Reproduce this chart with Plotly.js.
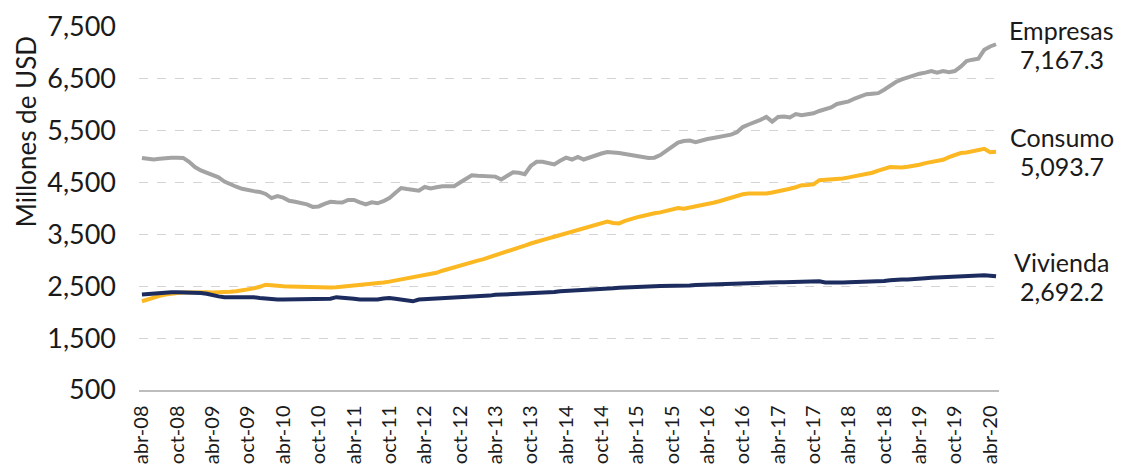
<!DOCTYPE html>
<html>
<head>
<meta charset="utf-8">
<script src="https://cdn.plot.ly/plotly-3.0.1.min.js"></script>
<style>html,body{margin:0;padding:0;background:#fff;}#chart{width:1125px;height:470px;}</style>
</head>
<body>
<div id="chart"></div>
<script>
// Month labels: abr-08 ... may-20 (monthly)
const meses = ['ene','feb','mar','abr','may','jun','jul','ago','sep','oct','nov','dic'];
const startMonth = 3, startYear = 2008, nMonths = 146;
const categorias = [];
for (let k = 0; k < nMonths; k++) {
  const m = (startMonth + k) % 12;
  const y = startYear + Math.floor((startMonth + k) / 12);
  categorias.push(meses[m] + '-' + String(y).slice(-2));
}
const ticksX = categorias.filter((c, i) => i % 6 === 0);

const empresas = [
  4975, 4960, 4945, 4960, 4975, 4980, 4980, 4975, 4900, 4800, 4735, 4690,
  4660, 4600, 4520, 4460, 4420, 4380, 4350, 4335, 4320, 4280, 4200, 4240,
  4210, 4150, 4130, 4110, 4080, 4030, 4040, 4090, 4130, 4120, 4115, 4165,
  4165, 4120, 4080, 4120, 4100, 4140, 4200, 4300, 4395, 4375, 4360, 4345,
  4415, 4385, 4410, 4430, 4430, 4430, 4500, 4560, 4640, 4630, 4620, 4620,
  4615, 4560, 4640, 4700, 4690, 4660, 4820, 4900, 4900, 4870, 4850, 4920,
  4980, 4945, 4995, 4945, 4990, 5030, 5060, 5090, 5085, 5070, 5050, 5030,
  5000, 4980, 4975, 4980, 5030, 5110, 5185, 5270, 5300, 5310, 5280, 5320,
  5340, 5360, 5380, 5400, 5425, 5470, 5570, 5620, 5660, 5710, 5765, 5675,
  5765, 5775, 5755, 5820, 5800, 5815, 5835, 5880, 5920, 5950, 6015, 6040,
  6065, 6120, 6160, 6205, 6215, 6225, 6290, 6370, 6440, 6490, 6530, 6570,
  6600, 6620, 6650, 6620, 6650, 6630, 6650, 6735, 6845, 6870, 6890, 7060,
  7125, 7167.3
];
const consumo = [
  2212, 2250, 2290, 2315, 2340, 2360, 2370, 2380, 2385, 2385, 2385, 2383,
  2382, 2380, 2385, 2395, 2405, 2420, 2440, 2460, 2490, 2530, 2520, 2505,
  2500, 2498, 2495, 2490, 2480, 2470, 2472, 2475, 2478, 2480, 2490, 2505,
  2515, 2530, 2545, 2555, 2565, 2575, 2590, 2610, 2630, 2650, 2670, 2690,
  2715, 2740, 2760, 2800, 2835, 2870, 2900, 2930, 2960, 2995, 3025, 3060,
  3095, 3130, 3170, 3200, 3240, 3285, 3325, 3365, 3395, 3425, 3455, 3490,
  3520, 3555, 3585, 3615, 3645, 3680, 3715, 3750, 3720, 3712, 3760, 3800,
  3828, 3855, 3885, 3908, 3925, 3950, 3975, 4010, 3995, 4015, 4045, 4070,
  4085, 4110, 4140, 4175, 4210, 4240, 4275, 4290, 4285, 4290, 4290, 4310,
  4330, 4350, 4380, 4410, 4450, 4455, 4465, 4545, 4550, 4555, 4560, 4580,
  4600, 4620, 4640, 4665, 4690, 4730, 4770, 4800, 4795, 4790, 4805, 4820,
  4845, 4875, 4895, 4915, 4940, 4990, 5040, 5070, 5080, 5105, 5120, 5150,
  5085, 5093.7
];
const vivienda = [
  2340, 2350, 2365, 2375, 2385, 2385, 2385, 2385, 2385, 2380, 2370, 2355,
  2320, 2305, 2290, 2290, 2295, 2300, 2300, 2290, 2275, 2260, 2245, 2245,
  2245, 2245, 2245, 2245, 2245, 2245, 2245, 2245, 2260, 2290, 2285, 2275,
  2260, 2245, 2245, 2245, 2245, 2265, 2275, 2260, 2245, 2215, 2210, 2245,
  2250, 2255, 2260, 2270, 2275, 2280, 2285, 2290, 2295, 2300, 2310, 2320,
  2335, 2340, 2345, 2350, 2355, 2355, 2360, 2362, 2365, 2375, 2390, 2405,
  2410, 2415, 2420, 2420, 2430, 2440, 2450, 2455, 2460, 2470, 2478, 2485,
  2490, 2495, 2500, 2502, 2505, 2505, 2505, 2505, 2510, 2515, 2525, 2530,
  2535, 2540, 2545, 2550, 2550, 2552, 2555, 2560, 2565, 2570, 2572, 2575,
  2578, 2580, 2582, 2585, 2590, 2595, 2600, 2595, 2575, 2570, 2572, 2575,
  2578, 2580, 2585, 2588, 2590, 2595, 2600, 2615, 2630, 2630, 2632, 2635,
  2645, 2655, 2665, 2670, 2675, 2680, 2690, 2695, 2700, 2710, 2720, 2715,
  2705, 2692.2
];

const series = [
  {name: 'Empresas', y: empresas, color: '#A3A3A3'},
  {name: 'Consumo', y: consumo, color: '#FCB823'},
  {name: 'Vivienda', y: vivienda, color: '#1D2C5E'}
];
const fmt = v => v.toLocaleString('en-US', {minimumFractionDigits: 1, maximumFractionDigits: 1});

const FONT = 'Lato, "Noto Sans", sans-serif';
const TXT = '#1a1a1a';
const traces = series.map(s => ({
  type: 'scatter', mode: 'lines', name: s.name,
  x: categorias, y: s.y,
  line: {color: s.color, width: 4},
  hoverinfo: 'skip'
}));

const annotations = [];
series.forEach(s => {
  const last = s.y[s.y.length - 1];
  annotations.push({
    xref: 'paper', yref: 'y', x: 1.073, y: last,
    xanchor: 'center', yanchor: 'middle', yshift: 14.5, showarrow: false,
    text: s.name, font: {family: FONT, size: 25, color: TXT}
  });
  annotations.push({
    xref: 'paper', yref: 'y', x: 1.073, y: last,
    xanchor: 'center', yanchor: 'middle', yshift: -14.5, showarrow: false,
    text: fmt(last), font: {family: FONT, size: 25, color: TXT}
  });
});
annotations.push({
  xref: 'paper', yref: 'paper', x: -0.131, y: 0.711,
  xanchor: 'center', yanchor: 'middle', showarrow: false, textangle: -90,
  text: 'Millones de USD',
  font: {family: FONT, size: 26, color: TXT}
});

const layout = {
  width: 1125, height: 470,
  margin: {l: 139, r: 126, t: 27, b: 80, pad: 0},
  paper_bgcolor: '#ffffff', plot_bgcolor: '#ffffff',
  showlegend: false,
  font: {family: FONT, color: TXT},
  xaxis: {
    type: 'category',
    range: [-0.5, nMonths - 0.5],
    tickmode: 'array', tickvals: ticksX, ticktext: ticksX,
    tickangle: -90,
    tickfont: {family: FONT, size: 20, color: TXT},
    showgrid: false, zeroline: false,
    showline: true, linecolor: '#BDBDBD', linewidth: 1.5,
    ticks: '', ticklabelstandoff: 6
  },
  yaxis: {
    range: [500, 7500],
    tickmode: 'linear', tick0: 500, dtick: 1000,
    tickformat: ',d',
    tickfont: {family: FONT, size: 27, color: TXT},
    showgrid: true, gridcolor: '#D4D4D4', gridwidth: 1, griddash: 'dash',
    zeroline: false, showline: false, ticks: '',
    ticklabelstandoff: 22
  },
  annotations: annotations
};

Plotly.newPlot('chart', traces, layout, {staticPlot: true, displayModeBar: false});
</script>
</body>
</html>
